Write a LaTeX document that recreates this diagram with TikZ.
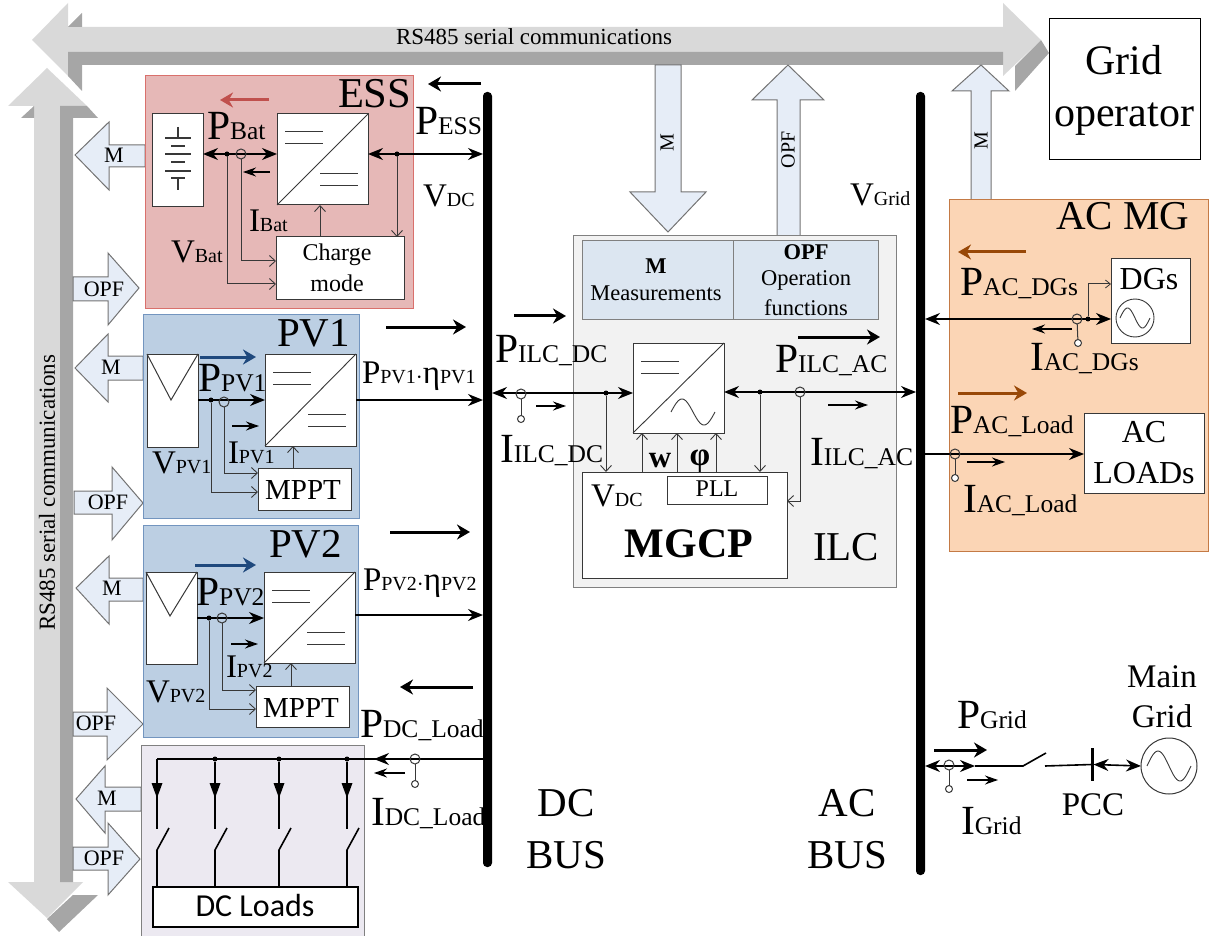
\documentclass[tikz,border=0pt]{standalone}
\usepackage{fontspec}
\setmainfont{Liberation Serif}
\newfontfamily\calibf{Carlito}
\usetikzlibrary{arrows.meta,fit,calc}
\definecolor{busL}{HTML}{D9D9D9}
\definecolor{busD}{HTML}{A6A6A6}
\definecolor{blkF}{HTML}{E6EDF7}
\definecolor{essF}{HTML}{E6B8B7}
\definecolor{essB}{HTML}{D9706C}
\definecolor{pvF}{HTML}{BCCFE3}
\definecolor{pvB}{HTML}{7395BF}
\definecolor{loadF}{HTML}{ECE9F1}
\definecolor{acF}{HTML}{FBD5B5}
\definecolor{acB}{HTML}{C47A45}
\definecolor{ilcF}{HTML}{F2F2F2}
\definecolor{panF}{HTML}{DCE6F1}
\definecolor{redA}{HTML}{C0504D}
\definecolor{bluA}{HTML}{1F497D}
\definecolor{brnA}{HTML}{984807}
\definecolor{wire}{HTML}{383838}
\newcommand{\fs}[1]{\fontsize{#1}{#1}\selectfont}
\newcommand{\Lb}[2]{{\fs{41.5}#1}{\fs{25.5}#2}}
\newcommand{\Ls}[2]{{\fs{33}#1}{\fs{20}#2}}
\tikzset{
  x=1pt,y=-1pt,
  frame/.style={draw,inner sep=0pt,outer sep=0pt,line width=1pt},
  boxw/.style={frame,draw=wire,fill=white},
  blk/.style={draw=gray!90!black,fill=blkF,line width=1pt,line join=miter},
  lab/.style={anchor=base west,inner sep=0pt,outer sep=0pt},
  ctr/.style={anchor=base,inner sep=0pt,outer sep=0pt,align=center},
  wr/.style={draw=wire,line width=1pt},
  open/.style={wr,-{Straight Barb[length=6pt,width=11pt,line width=.9pt]}},
  pw/.style={line width=1.6pt,black},
  one/.style={pw,-{Stealth[length=15pt,width=12pt]}},
  dbl/.style={pw,{Stealth[length=15pt,width=12pt]}-{Stealth[length=15pt,width=12pt]}},
  fat/.style={line width=3pt,-{Stealth[length=13pt,width=15pt]}},
  smal/.style={line width=1.1pt,-{Stealth[length=13pt,width=9pt]}},
  dot/.style={circle,fill=black,inner sep=0pt,minimum size=5pt,outer sep=0pt},
  ct/.style={circle,draw=wire,line width=1pt,inner sep=0pt,minimum size=10pt,outer sep=0pt},
  cs/.style={circle,draw=wire,fill=white,line width=1pt,inner sep=0pt,minimum size=7pt,outer sep=0pt},
  bus/.style={fill=black,rounded corners=4pt,inner sep=0pt,outer sep=0pt},
}
\newcommand{\myConv}[5]{%
  \node[boxw,fit={(#2,#3)(#4,#5)}] (#1) {};
  \draw[wr,line width=.9pt] (#1.south west) -- (#1.north east);
  \draw[wr] ({#2+8},{#3+18}) -- ({#2+46},{#3+18}) ({#2+8},{#3+30}) -- ({#2+46},{#3+30});}
\newcommand{\myDC}[2]{%
  \draw[wr] ({#1+43},{#2+60}) -- ({#1+81},{#2+60}) ({#1+43},{#2+72}) -- ({#1+81},{#2+72});}
\newcommand{\mySine}[4]{%
  \draw[wr,line width=.9pt] plot[domain=-1:1,samples=41,smooth,variable=\t] ({#1+#3*\t},{#2+#4*sin(180*\t)});}
\begin{document}
\begin{tikzpicture}
\useasboundingbox (0,0) rectangle (1211,936);
% ---------- serial buses
\fill[busL] (32,40)--(68,3)--(68,27)--(1003,27)--(1003,3)--(1041,40)--(1003,76)--(1003,52)--(68,52)--(68,76)--cycle;
\fill[busD] (68,52)--(1003,52)--(1003,65)--(82,65)--(82,91)--(68,76)--cycle;
\fill[busD] (68,27)--(82,13)--(82,27)--cycle;
\fill[busD] (1015,66)--(1041,40)--(1049,53)--(1015,91)--cycle;
\fill[busL] (47,68)--(87,106)--(60,106)--(60,882)--(83,882)--(47,918)--(8,882)--(34,882)--(34,106)--(8,106)--cycle;
\fill[busD] (60,106)--(87,106)--(98,118)--(73,118)--(73,882)--(60,882)--cycle;
\fill[busD] (21,118)--(34,106)--(34,118)--cycle;
\fill[busD] (73,895)--(98,895)--(59,932)--(47,919)--cycle;
\node[inner sep=0pt,font=\fs{23}] (rsH) at (534,37) {RS485 serial communications};
\node[inner sep=0pt,font=\fs{23},rotate=90] (rsV) at (47,493) {RS485 serial communications};
% ---------- block arrows
\draw[blk] (145,145)--(109,145)--(109,122)--(75,155)--(109,190)--(109,167)--(145,167)--cycle;
\draw[blk] (73,277)--(108,277)--(108,253)--(139,288)--(108,325)--(108,301)--(73,301)--cycle;
\draw[blk] (143,356)--(108,356)--(108,334)--(75,368)--(108,402)--(108,380)--(143,380)--cycle;
\draw[blk] (74,491)--(112,491)--(112,467)--(143,503)--(112,540)--(112,514)--(74,514)--cycle;
\draw[blk] (143,578)--(109,578)--(109,556)--(76,588)--(109,624)--(109,601)--(143,601)--cycle;
\draw[blk] (73,712)--(107,712)--(107,688)--(143,724)--(107,760)--(107,736)--(73,736)--cycle;
\draw[blk] (141,787)--(105,787)--(105,766)--(76,799)--(105,833)--(105,811)--(141,811)--cycle;
\draw[blk] (73,847)--(108,847)--(108,823)--(140,859)--(108,895)--(108,870)--(73,870)--cycle;
\draw[blk] (655,65)--(655,192)--(630,192)--(668,232)--(706,192)--(681,192)--(681,65)--cycle;
\draw[blk] (777,236)--(777,100)--(752,100)--(788,65)--(824,100)--(800,100)--(800,236)--cycle;
\draw[blk] (971,200)--(971,91)--(952,91)--(981,65)--(1009,91)--(991,91)--(991,200)--cycle;
\node[inner sep=0pt,font=\fs{22}] (tM1) at (114,155) {M};
\node[inner sep=0pt,font=\fs{22}] (tO1) at (104,289) {OPF};
\node[inner sep=0pt,font=\fs{22}] (tM2) at (111,367) {M};
\node[inner sep=0pt,font=\fs{22}] (tO2) at (108,502) {OPF};
\node[inner sep=0pt,font=\fs{22}] (tM3) at (112,588) {M};
\node[inner sep=0pt,font=\fs{22}] (tO3) at (96,723) {OPF};
\node[inner sep=0pt,font=\fs{22}] (tM4) at (107,798) {M};
\node[inner sep=0pt,font=\fs{22}] (tO4) at (104,858) {OPF};
\node[inner sep=0pt,font=\fs{20},rotate=90] (tM5) at (667,143) {M};
\node[inner sep=0pt,font=\fs{20},rotate=90] (tO5) at (788,150) {OPF};
\node[inner sep=0pt,font=\fs{20},rotate=90] (tM6) at (981,141) {M};
% ---------- buses
\node[bus,fit={(483,92)(492,867)}] (dcbus) {};
\node[bus,fit={(916,92)(925,875)}] (acbus) {};
% ---------- group frames
\node[frame,draw=essB,fill=essF,fit={(145,76)(413,309)}] (ess) {};
\node[frame,draw=pvB,fill=pvF,fit={(143,315)(359,518)}] (pv1) {};
\node[frame,draw=pvB,fill=pvF,fit={(143,525)(358,737)}] (pv2) {};
\node[frame,draw=gray,fill=loadF,fit={(141,745)(364,936)}] (dcl) {};
\node[frame,draw=gray,fill=ilcF,fit={(573,236)(896,587)}] (ilc) {};
\node[frame,draw=acB,fill=acF,fit={(949,200)(1208,551)}] (acmg) {};
% ---------- grid operator
\node[boxw,draw=black,fit={(1049,19)(1200,160)}] (gop) {};
\node[ctr,font=\fs{42}] (gop1) at (1124,75) {Grid};
\node[ctr,font=\fs{42}] (gop2) at (1124,127) {operator};
% ---------- ESS
\node[lab,font=\fs{42.5}] (tESS) at (338,108) {ESS};
\node[boxw,fit={(152,114)(203,207)}] (batt) {};
\draw[wire,line width=1.2pt] (178,127)--(178,138) (165,138)--(191,138) (171,146)--(185,146) (165,154)--(191,154) (171,162)--(185,162) (165,171)--(191,171) (171,178)--(185,178) (178,178)--(178,190);
\myConv{cEss}{277}{114}{368}{205}
\myDC{277}{114}
\node[boxw,fit={(276,237)(404,300)}] (charge) {};
\node[ctr,font=\fs{24}] (charge1) at (337,261) {Charge};
\node[ctr,font=\fs{24}] (charge2) at (337,291) {mode};
\coordinate (jBatV) at (227,154);
\coordinate (jBatI) at (241,154);
\coordinate (jEss) at (397,154);
\draw[dbl] (batt.east|-jBatV) -- (cEss.west|-jBatV);
\draw[dbl] (cEss.east|-jEss) -- (dcbus.west|-jEss);
\node[dot] (dBat) at (jBatV) {};
\node[ct] (ctBat) at (jBatI) {};
\draw[open] (dBat) |- (charge.west|-0,284);
\draw[open] (ctBat.south) |- (charge.west|-0,261);
\draw[open] (charge.north-|320,0) -- (cEss.south-|320,0);
\node[dot] (dEss) at (jEss) {};
\draw[open] (dEss) -- (charge.north-|jEss);
\draw[fat,redA] (269,100) -- (220,100);
\draw[smal] (270,172) -- (243,172);
\draw[fat] (481,84) -- (428,84);
\node[lab] (lPBat) at (207,140) {\Lb{P}{Bat}};
\node[lab] (lIBat) at (249,232) {\Ls{I}{Bat}};
\node[lab] (lVBat) at (171,263) {\Ls{V}{Bat}};
\node[lab] (lPEss) at (415,135) {\Lb{P}{ESS}};
\node[lab] (lVdc) at (423,207) {\Ls{V}{DC}};
% ---------- PV1
\node[lab,font=\fs{41}] (tPV1) at (277,346) {PV1};
\node[boxw,fit={(147,354)(198,447)}] (pan1) {};
\draw[wr] (pan1.north west) -- (171,400) -- (pan1.north east);
\myConv{cPv1}{265}{354}{356}{446}
\myDC{265}{354}
\node[boxw,fit={(258,468)(351,510)}] (mppt1) {};
\node[ctr,font=\fs{29}] (mppt1t) at (303,499) {MPPT};
\coordinate (jPv1) at (211,400);
\coordinate (iPv1) at (224,402);
\draw[one] (pan1.east|-jPv1) -- (cPv1.west|-jPv1);
\node[dot] (dPv1) at (jPv1) {};
\node[ct] (ctPv1) at (iPv1) {};
\draw[open] (ctPv1.south) |- (mppt1.west|-0,473);
\draw[open] (dPv1) |- (mppt1.west|-0,492);
\draw[open] (mppt1.north-|293,0) -- (cPv1.south-|293,0);
\draw[one] (cPv1.east|-jPv1) -- (dcbus.west|-jPv1);
\draw[fat,bluA] (200,357) -- (256,357);
\draw[smal] (232,426) -- (259,426);
\draw[fat] (386,327) -- (466,327);
\node[lab] (lPPv1) at (198,391) {\Lb{P}{PV1}};
\node[lab] (lIPv1) at (228,463) {\Ls{I}{PV1}};
\node[lab] (lVPv1) at (152,473) {\Ls{V}{PV1}};
\node[lab] (lOut1) at (362,383) {{\fs{33}P}{\fs{20}PV1}{\fs{24}$\cdot$}{\fs{33}η}{\fs{20}PV1}};
% ---------- PV2
\node[lab,font=\fs{41}] (tPV2) at (269,557) {PV2};
\node[boxw,fit={(146,572)(197,664)}] (pan2) {};
\draw[wr] (pan2.north west) -- (170,616) -- (pan2.north east);
\myConv{cPv2}{264}{572}{355}{663}
\myDC{264}{572}
\node[boxw,fit={(256,686)(349,727)}] (mppt2) {};
\node[ctr,font=\fs{29}] (mppt2t) at (301,717) {MPPT};
\coordinate (jPv2) at (209,618);
\coordinate (iPv2) at (222,618);
\draw[one] (pan2.east|-jPv2) -- (cPv2.west|-jPv2);
\node[dot] (dPv2) at (jPv2) {};
\node[ct] (ctPv2) at (iPv2) {};
\draw[open] (ctPv2.south) |- (mppt2.west|-0,690);
\draw[open] (dPv2) |- (mppt2.west|-0,709);
\draw[open] (mppt2.north-|291,0) -- (cPv2.south-|291,0);
\draw[one] (cPv2.east|-0,615) -- (dcbus.west|-0,615);
\draw[fat,bluA] (195,565) -- (256,565);
\draw[smal] (231,644) -- (258,644);
\draw[fat] (390,532) -- (470,532);
\node[lab] (lPPv2) at (196,605) {\Lb{P}{PV2}};
\node[lab] (lIPv2) at (226,677) {\Ls{I}{PV2}};
\node[lab] (lVPv2) at (146,702) {\Ls{V}{PV2}};
\node[lab] (lOut2) at (363,590) {{\fs{33}P}{\fs{20}PV2}{\fs{24}$\cdot$}{\fs{33}η}{\fs{20}PV2}};
% ---------- DC loads
\node[boxw,draw=black,line width=1.6pt,fit={(153,887)(358,927)}] (dcbox) {};
\node[inner sep=0pt,font=\calibf\fs{32}] (dcboxt) at (255,906) {DC Loads};
\coordinate (c0) at (157,759);
\node[dot] (n1) at (215,759) {};
\node[dot] (n2) at (279,759) {};
\node[dot] (n3) at (347,759) {};
\draw[pw] (dcbus.west|-c0) -- (c0);
\draw[pw,-{Stealth[length=15pt,width=12pt]}] (415,759) -- (374,759);
\node[ct] (ctDc) at (415,759) {};
\node[cs] (csDc) at (415,784) {};
\draw[wr] (ctDc) -- (csDc);
\foreach \nx/\nn in {157/c0,215/n1,279/n2,347/n3}{
  \draw[pw] (\nn) -- (\nx,829);
  \fill (\nx-5.5,783) -- (\nx+5.5,783) -- (\nx,798) -- cycle;
  \draw[pw] (dcbox.north-|\nx,0) -- (\nx,850) -- (\nx+12,828);
}
\draw[smal] (405,773) -- (374,773);
\draw[fat] (473,687) -- (400,687);
\node[lab] (lPDc) at (360,737) {\Lb{P}{DC\_Load}};
\node[lab] (lIDc) at (371,825) {\Lb{I}{DC\_Load}};
\node[ctr,font=\fs{41}] (tDC1) at (566,816) {DC};
\node[ctr,font=\fs{41}] (tDC2) at (566,868) {BUS};
\node[ctr,font=\fs{41}] (tAC1) at (847,816) {AC};
\node[ctr,font=\fs{41}] (tAC2) at (847,868) {BUS};
% ---------- ILC
\node[frame,draw=gray,fill=panF,fit={(582,241)(733,320)}] (panM) {};
\node[frame,draw=gray,fill=panF,fit={(733,241)(878,320)}] (panO) {};
\node[inner sep=0pt,font=\bfseries\fs{22.5}] (panM1) at (656,266) {M};
\node[inner sep=0pt,font=\fs{22.5}] (panM2) at (656,293) {Measurements};
\node[inner sep=0pt,font=\bfseries\fs{22.5}] (panO1) at (806,252) {OPF};
\node[inner sep=0pt,font=\fs{22.5}] (panO2) at (806,280) {Operation};
\node[inner sep=0pt,font=\fs{22.5}] (panO3) at (806,308) {functions};
\myConv{cIlc}{633}{343}{724}{433}
\mySine{693}{412}{22}{13}
\node[boxw,fit={(582,472)(787,578)}] (mgcp) {};
\node[boxw,fit={(667,476)(767,504)}] (pll) {};
\node[inner sep=0pt,font=\fs{24}] (pllt) at (717,489) {PLL};
\node[lab] (lVdc2) at (591,506) {\Ls{V}{DC}};
\node[ctr,font=\bfseries\fs{42}] (mgcpt) at (689,557) {MGCP};
\node[lab,font=\fs{41}] (tILC) at (813,560) {ILC};
\draw[dbl] (dcbus.east|-0,393) -- (cIlc.west|-0,393);
\node[ct] (ctIl) at (521,394) {};
\node[cs] (csIl) at (521,419) {};
\draw[wr] (ctIl) -- (csIl);
\node[dot] (dIl) at (606,393) {};
\draw[open] (dIl) -- (mgcp.north-|dIl);
\foreach \ax in {642,677,716}{ \draw[open] (mgcp.north-|\ax,0) -- (cIlc.south-|\ax,0); }
\draw[smal] (536,406) -- (566,406);
\draw[fat] (514,316) -- (566,316);
\draw[dbl] (cIlc.east|-0,392) -- (acbus.west|-0,392);
\node[dot] (dIr) at (760,392) {};
\draw[open] (dIr) -- (mgcp.north-|dIr);
\node[ct] (ctIr) at (800,392) {};
\draw[open] (ctIr.south) |- (mgcp.east|-0,501);
\draw[smal] (828,405) -- (868,405);
\draw[fat] (798,337) -- (880,337);
\node[ctr,font=\bfseries\fs{31}] (tw) at (660,467) {w};
\node[ctr,font=\bfseries\fs{33}] (tphi) at (700,465) {φ};
\node[lab] (lPIlD) at (495,362) {\Lb{P}{ILC\_DC}};
\node[lab] (lIIlD) at (500,462) {\Lb{I}{ILC\_DC}};
\node[lab] (lPIlA) at (775,372) {\Lb{P}{ILC\_AC}};
\node[lab] (lIIlA) at (810,465) {\Lb{I}{ILC\_AC}};
\node[lab] (lVgr) at (850,206) {\Ls{V}{Grid}};
% ---------- AC MG
\node[lab,font=\fs{41}] (tACMG) at (1056,230) {AC MG};
\node[boxw,fit={(1111,259)(1190,343)}] (dgs) {};
\node[ctr,font=\fs{32}] (dgst) at (1149,290) {DGs};
\node[circle,draw=wire,line width=.9pt,minimum size=38pt,inner sep=0pt,outer sep=0pt] (dgc) at (1135,318) {};
\mySine{1135}{318}{15}{10}
\node[boxw,fit={(1084,413)(1204,493)}] (acl) {};
\node[ctr,font=\fs{32}] (acl1) at (1144,442) {AC};
\node[ctr,font=\fs{32}] (acl2) at (1144,483) {LOADs};
\draw[dbl] (acbus.east|-0,319) -- (dgs.west|-0,319);
\node[ct] (ctDg) at (1077,319) {};
\node[cs] (csDg) at (1078,343) {};
\draw[wr] (ctDg) -- (csDg);
\node[dot] (dDg) at (1088,319) {};
\draw[wr,-{Straight Barb[length=5pt,width=8pt,line width=.8pt]}] (dDg) |- (dgs.west|-0,284);
\draw[smal] (1072,329) -- (1032,329);
\draw[fat,brnA] (1026,252) -- (958,252);
\draw[one] (acbus.east|-0,454) -- (acl.west|-0,454);
\node[ct] (ctAl) at (955,454) {};
\node[cs] (csAl) at (955,478) {};
\draw[wr] (ctAl) -- (csAl);
\draw[smal] (967,462) -- (1005,462);
\draw[fat,brnA] (958,393) -- (1027,393);
\node[lab] (lPDg) at (960,295) {\Lb{P}{AC\_DGs}};
\node[lab] (lIDg) at (1030,370) {\Lb{I}{AC\_DGs}};
\node[lab] (lPAl) at (950,433) {\Lb{P}{AC\_Load}};
\node[lab] (lIAl) at (963,512) {\Lb{I}{AC\_Load}};
% ---------- main grid
\coordinate (gA) at (975,766);
\coordinate (gB) at (1023,766);
\coordinate (gC) at (1045,766);
\node[bus,rounded corners=0pt,fit={(1090.5,748)(1093.5,781)}] (pcc) {};
\node[circle,draw=wire,line width=1pt,minimum size=56pt,inner sep=0pt,outer sep=0pt] (src) at (1169,766) {};
\mySine{1169}{766}{22}{15}
\draw[dbl] (acbus.east|-gA) -- (gA);
\node[ct] (ctGr) at (949,765) {};
\node[cs] (csGr) at (949,789) {};
\draw[wr] (ctGr) -- (csGr);
\draw[pw] (gA) -- (gB) -- (1046,753);
\draw[pw] (gC) -- (pcc.center);
\draw[dbl] (pcc.east) -- (src.west);
\draw[fat] (934,750) -- (987,750);
\draw[smal] (967,780) -- (998,780);
\node[lab] (lPGr) at (957,728) {\Lb{P}{Grid}};
\node[lab] (lIGr) at (961,834) {\Lb{I}{Grid}};
\node[ctr,font=\fs{33}] (tPCC) at (1093,815) {PCC};
\node[ctr,font=\fs{33}] (tMain) at (1162,687) {Main};
\node[ctr,font=\fs{33}] (tGrid) at (1162,727) {Grid};
\end{tikzpicture}
\end{document}
